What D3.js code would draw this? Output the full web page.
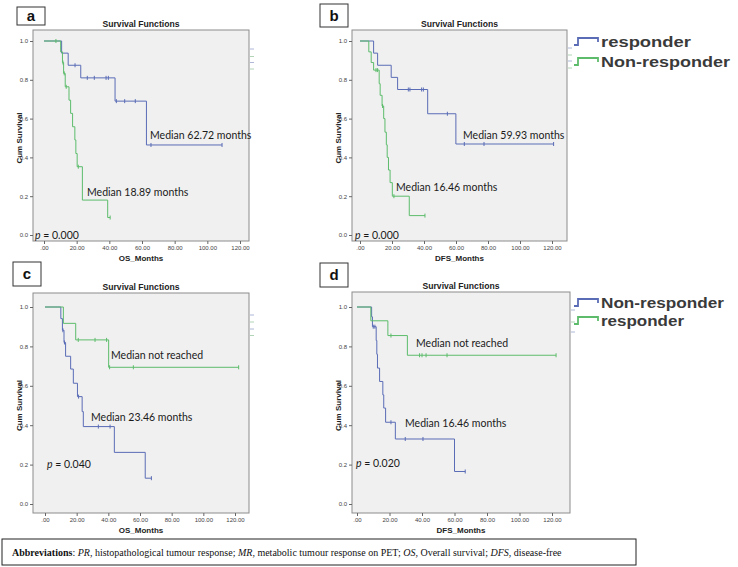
<!DOCTYPE html>
<html>
<head>
<meta charset="utf-8">
<script src="https://d3js.org/d3.v7.min.js"></script>
<style>
body { margin: 0; background: #fff; }
svg { display: block; }
</style>
</head>
<body>
<svg id="fig" width="738" height="567"></svg>
<script>
// axis ticks (months / cumulative survival)
var xTicks = [0, 20, 40, 60, 80, 100, 120];
var yTicks = [0, 0.2, 0.4, 0.6, 0.8, 1.0];

// a: OS by histopathological response
var aRespT = [10.8, 14.8, 22.5, 43.5, 62.72];
var aRespS = [0.9375, 0.875, 0.81, 0.69, 0.464];
var aRespC = [19, 26.5, 30.8, 38, 39.4, 44.3, 49.4, 55.9, 65.5, 109];
var aNonT = [10.2, 11.3, 12, 13, 15.3, 16.3, 17.5, 18.89, 19.5, 20.3, 23.5, 39];
var aNonS = [0.944, 0.889, 0.833, 0.764, 0.695, 0.627, 0.558, 0.49, 0.42, 0.352, 0.18, 0.09];
var aNonC = [7.3, 11.6, 12.4, 13.6, 21, 40.5];

// b: DFS by histopathological response
var bRespT = [8.5, 11, 19.5, 23.5, 42.3, 59.93];
var bRespS = [0.9375, 0.875, 0.8125, 0.75, 0.625, 0.469];
var bRespC = [30.2, 31.2, 38.5, 39.6, 54.6, 65.2, 77.5, 121];
var bNonT = [5.5, 7, 8.5, 12, 12.6, 13.8, 14.8, 15.6, 16.46, 17, 17.8, 18.8, 20.2, 30.8];
var bNonS = [0.944, 0.889, 0.85, 0.78, 0.72, 0.665, 0.60, 0.53, 0.465, 0.40, 0.335, 0.27, 0.20, 0.10];
var bNonC = [10, 11, 14.1, 21.2, 40.6];

// c: OS by metabolic response
var cRespT = [11.6, 19.4, 40.2];
var cRespS = [0.917, 0.833, 0.694];
var cRespC = [21, 31.6, 38.9, 40.8, 55.8, 122.3];
var cNonT = [10, 11, 12, 13, 16.2, 17.9, 20.5, 23.46, 24.2, 43.8, 63.3];
var cNonS = [0.941, 0.882, 0.82, 0.75, 0.685, 0.613, 0.545, 0.469, 0.393, 0.262, 0.131];
var cNonC = [11.3, 12.3, 21.2, 33.7, 41.1, 67.2];

// d: DFS by metabolic response
var dRespT = [8.5, 19, 31];
var dRespS = [0.93, 0.855, 0.755];
var dRespC = [20.9, 38.5, 40, 42.5, 55.4, 122.5];
var dNonT = [9, 9.5, 11.8, 12.2, 12.6, 13.9, 15.9, 16.46, 17.6, 23.6, 60];
var dNonS = [0.95, 0.90, 0.83, 0.76, 0.69, 0.622, 0.554, 0.487, 0.415, 0.33, 0.165];
var dNonC = [10, 11, 20.9, 29.7, 40.6, 66.6];

var blue = "#5a6cb6", green = "#5cbc6b";

var panels = [
  { letter: "a", box: [17, 7, 28, 18], frame: [33, 30, 249, 241], xr: [44, 240], yr: [235, 41],
    xTitle: "OS_Months", blueT: aRespT, blueS: aRespS, blueC: aRespC, greenT: aNonT, greenS: aNonS, greenC: aNonC,
    notes: [["Median 62.72 months", 150, 139], ["Median 18.89 months", 87, 196]], p: ["0.000", 35, 239],
    dashes: [49, 56.5, 62.5, 69] },
  { letter: "b", box: [320, 4, 28, 23], frame: [352, 30, 567, 241], xr: [360, 552], yr: [235, 41],
    xTitle: "DFS_Months", blueT: bRespT, blueS: bRespS, blueC: bRespC, greenT: bNonT, greenS: bNonS, greenC: bNonC,
    notes: [["Median 59.93 months", 463, 139], ["Median 16.46 months", 396, 191]], p: ["0.000", 355, 239],
    dashes: [48, 55, 61, 68],
    legend: [["responder", blue, 42, 90], ["Non-responder", green, 62, 129]] },
  { letter: "c", box: [13, 262, 28, 24], frame: [33, 293, 249, 513], xr: [45, 235], yr: [504, 307],
    xTitle: "OS_Months", blueT: cNonT, blueS: cNonS, blueC: cNonC, greenT: cRespT, greenS: cRespS, greenC: cRespC,
    notes: [["Median not reached", 111, 359], ["Median 23.46 months", 91, 421]], p: ["0.040", 47, 468],
    dashes: [315, 322, 329, 335.5] },
  { letter: "d", box: [320, 263, 28, 24], frame: [352, 292, 570, 513], xr: [357, 552], yr: [504, 307],
    xTitle: "DFS_Months", blueT: dNonT, blueS: dNonS, blueC: dNonC, greenT: dRespT, greenS: dRespS, greenC: dRespC,
    notes: [["Median not reached", 416, 347], ["Median 16.46 months", 405, 427]], p: ["0.020", 356, 467],
    dashes: [310, 322, 332],
    legend: [["Non-responder", blue, 303, 123], ["responder", green, 321, 83]] }
];

var svg = d3.select("#fig");

function survAt(times, surv, t) {
  var s = 1;
  times.forEach(function (ti, i) { if (ti <= t) s = surv[i]; });
  return s;
}

function drawCurve(g, x, y, times, surv, cens, colour) {
  var end = Math.max(times[times.length - 1], d3.max(cens));
  var pts = [[0, 1]];
  times.forEach(function (t, i) { pts.push([t, surv[i]]); });
  pts.push([end, surv[surv.length - 1]]);
  var line = d3.line().x(function (d) { return x(d[0]); }).y(function (d) { return y(d[1]); })
    .curve(d3.curveStepAfter);
  g.append("path").attr("d", line(pts)).attr("fill", "none")
    .attr("stroke", colour).attr("stroke-width", 1);
  g.selectAll(null).data(cens).enter().append("line")
    .attr("x1", function (d) { return x(d); }).attr("x2", function (d) { return x(d); })
    .attr("y1", function (d) { return y(survAt(times, surv, d)) - 2; })
    .attr("y2", function (d) { return y(survAt(times, surv, d)) + 2; })
    .attr("stroke", colour).attr("stroke-width", 1);
}

function drawPanel(p) {
  var g = svg.append("g");
  var f = p.frame;
  g.append("rect").attr("x", f[0]).attr("y", f[1]).attr("width", f[2] - f[0]).attr("height", f[3] - f[1])
    .attr("fill", "#f0f0f0").attr("stroke", "#8c8c8c").attr("stroke-width", 1);

  var x = d3.scaleLinear().domain([0, 120]).range(p.xr);
  var y = d3.scaleLinear().domain([0, 1]).range(p.yr);

  var ya = g.append("g").attr("transform", "translate(" + f[0] + ",0)")
    .call(d3.axisLeft(y).tickValues(yTicks).tickFormat(d3.format(".1f")).tickSize(3).tickPadding(2));
  var xa = g.append("g").attr("transform", "translate(0," + f[3] + ")")
    .call(d3.axisBottom(x).tickValues(xTicks).tickSize(3).tickPadding(2)
      .tickFormat(function (d) { return d === 0 ? ".00" : d3.format(".2f")(d); }));
  [ya, xa].forEach(function (a) {
    a.select(".domain").remove();
    a.selectAll("line").attr("stroke", "#666");
    a.selectAll("text").attr("font-family", "Liberation Sans, Arial, sans-serif")
      .attr("font-size", 6).attr("fill", "#444");
  });

  drawCurve(g, x, y, p.blueT, p.blueS, p.blueC, blue);
  drawCurve(g, x, y, p.greenT, p.greenS, p.greenC, green);

  // leftover legend marks at the right of the frame
  g.selectAll(null).data(p.dashes).enter().append("line")
    .attr("x1", f[2] + 1).attr("x2", f[2] + 5)
    .attr("y1", function (d) { return d; }).attr("y2", function (d) { return d; })
    .attr("stroke", function (d, i) { return i % 2 ? "#9cc9a2" : "#9aa6cf"; }).attr("stroke-width", 0.8);

  var cx = (f[0] + f[2]) / 2;
  g.append("text").attr("x", cx).attr("y", f[1] - 3).attr("text-anchor", "middle")
    .attr("font-family", "Liberation Sans, Arial, sans-serif").attr("font-weight", "bold")
    .attr("font-size", 8.6).attr("fill", "#222").text("Survival Functions");
  g.append("text").attr("x", cx).attr("y", f[3] + 20).attr("text-anchor", "middle")
    .attr("font-family", "Liberation Sans, Arial, sans-serif").attr("font-weight", "bold")
    .attr("font-size", 8).attr("fill", "#222").text(p.xTitle);
  var ym = (y(0) + y(1)) / 2;
  g.append("text").attr("transform", "translate(" + (f[0] - 11) + "," + ym + ") rotate(-90)")
    .attr("text-anchor", "middle")
    .attr("font-family", "Liberation Sans, Arial, sans-serif").attr("font-weight", "bold")
    .attr("font-size", 8).attr("fill", "#222").text("Cum Survival");

  p.notes.forEach(function (n) {
    g.append("text").attr("x", n[1]).attr("y", n[2])
      .attr("font-family", "Lato, sans-serif").attr("font-size", 10.5).attr("fill", "#1a1a1a").text(n[0]);
  });
  var pt = g.append("text").attr("x", p.p[1]).attr("y", p.p[2])
    .attr("font-family", "Lato, sans-serif").attr("font-size", 10.5).attr("fill", "#1a1a1a");
  pt.append("tspan").attr("font-style", "italic").text("p");
  pt.append("tspan").text(" = " + p.p[0]);

  var b = p.box;
  g.append("rect").attr("x", b[0]).attr("y", b[1]).attr("width", b[2]).attr("height", b[3])
    .attr("fill", "#fff").attr("stroke", "#333").attr("stroke-width", 1);
  g.append("text").attr("x", b[0] + b[2] / 2).attr("y", b[1] + b[3] / 2 + 5).attr("text-anchor", "middle")
    .attr("font-family", "Liberation Sans, Arial, sans-serif").attr("font-weight", "bold")
    .attr("font-size", 15).attr("fill", "#111").text(p.letter);

  if (p.legend) {
    p.legend.forEach(function (l) {
      var yy = l[2];
      g.append("path")
        .attr("d", "M574," + (yy + 3) + "H578V" + (yy - 4) + "H598V" + yy)
        .attr("fill", "none").attr("stroke", l[1]).attr("stroke-width", 1.8);
      g.append("text").attr("x", 601).attr("y", yy + 5)
        .attr("font-family", "Liberation Sans, Arial, sans-serif").attr("font-weight", "bold")
        .attr("font-size", 15).attr("fill", "#3a3a3a")
        .attr("textLength", l[3]).attr("lengthAdjust", "spacingAndGlyphs").text(l[0]);
    });
  }
}

panels.forEach(drawPanel);

// abbreviations footnote
svg.append("rect").attr("x", 2).attr("y", 539).attr("width", 634).attr("height", 26)
  .attr("fill", "#fff").attr("stroke", "#222").attr("stroke-width", 1);
var abbr = [["Abbreviations", "bold"], [": ", ""], ["PR", "italic"], [", histopathological tumour response; ", ""],
  ["MR", "italic"], [", metabolic tumour response on PET; ", ""], ["OS", "italic"], [", Overall survival; ", ""],
  ["DFS", "italic"], [", disease-free", ""]];
var ft = svg.append("text").attr("x", 12).attr("y", 556)
  .attr("font-family", "Liberation Serif, Times New Roman, serif").attr("font-size", 10).attr("fill", "#111");
abbr.forEach(function (a) {
  var ts = ft.append("tspan").text(a[0]);
  if (a[1] === "bold") ts.attr("font-weight", "bold");
  if (a[1] === "italic") ts.attr("font-style", "italic");
});
</script>
</body>
</html>
